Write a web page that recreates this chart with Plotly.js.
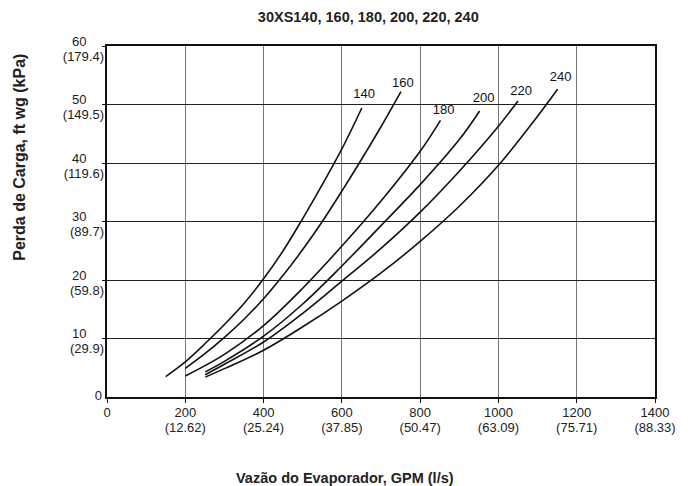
<!DOCTYPE html>
<html><head><meta charset="utf-8">
<script src="https://cdn.plot.ly/plotly-3.0.1.min.js"></script>
<style>body{margin:0;background:#fff}#chart{width:691px;height:486px}</style>
</head><body><div id="chart"></div>
<script>
const models = ["140", "160", "180", "200", "220", "240"];
const x140 = [150, 200, 250, 300, 350, 400, 450, 500, 550, 600, 651];
const y140 = [3.5, 6.0, 9.1, 12.4, 16.0, 20.2, 25.0, 30.5, 36.3, 42.4, 49.4];
const x160 = [200, 250, 300, 350, 400, 450, 500, 550, 600, 650, 700, 751];
const y160 = [4.9, 7.4, 10.2, 13.3, 16.8, 20.8, 25.2, 30.0, 35.2, 40.6, 46.2, 52.2];
const x180 = [200, 300, 400, 500, 600, 700, 800, 852];
const y180 = [3.6, 7.3, 12.2, 18.6, 25.8, 33.5, 42.0, 47.3];
const x200 = [251, 300, 400, 500, 600, 700, 800, 900, 952];
const y200 = [4.3, 6.1, 10.4, 15.9, 22.4, 29.3, 36.3, 44.0, 48.9];
const x220 = [251, 300, 400, 500, 600, 700, 800, 900, 1000, 1050];
const y220 = [3.8, 5.6, 9.4, 14.3, 19.8, 25.4, 31.6, 38.6, 46.3, 50.6];
const x240 = [251, 300, 400, 500, 600, 700, 800, 900, 1000, 1100, 1151];
const y240 = [3.4, 4.85, 8.0, 12.0, 16.4, 21.2, 26.6, 32.6, 39.6, 48.0, 52.6];
const labelX = [657, 756, 860, 962, 1058, 1159];
const labelY = [51.7, 53.6, 48.9, 50.9, 52.1, 54.5];

const xTickVals = [0, 200, 400, 600, 800, 1000, 1200, 1400];
const xTickGpm = ["0", "200", "400", "600", "800", "1000", "1200", "1400"];
const xTickLs = ["", "(12.62)", "(25.24)", "(37.85)", "(50.47)", "(63.09)", "(75.71)", "(88.33)"];
const yTickVals = [10, 20, 30, 40, 50, 60];
const yTickFt = ["10", "20", "30", "40", "50", "60"];
const yTickKpa = ["(29.9)", "(59.8)", "(89.7)", "(119.6)", "(149.5)", "(179.4)"];
const yZeroVals = [0];
const yZeroText = ["0"];

const FONT = 'Liberation Sans, Arial, Helvetica, sans-serif';
const xs = [x140, x160, x180, x200, x220, x240];
const ys = [y140, y160, y180, y200, y220, y240];
const traces = xs.map((x, i) => ({
  x: x, y: ys[i], mode: 'lines', type: 'scatter', name: models[i],
  line: {color: '#111', width: 1.6, shape: 'spline', smoothing: 1},
  hoverinfo: 'skip'
}));
traces.push({
  x: labelX, y: labelY, text: models, mode: 'text', type: 'scatter',
  textfont: {family: FONT, size: 13, color: '#111'}, hoverinfo: 'skip'
});
// empty traces so the extra label axes exist
traces.push({x: [], y: [], xaxis: 'x2', yaxis: 'y', type: 'scatter', mode: 'lines', hoverinfo: 'skip'});
traces.push({x: [], y: [], xaxis: 'x', yaxis: 'y2', type: 'scatter', mode: 'lines', hoverinfo: 'skip'});
traces.push({x: [], y: [], xaxis: 'x', yaxis: 'y3', type: 'scatter', mode: 'lines', hoverinfo: 'skip'});

const tickFont = {family: FONT, size: 13, color: '#222'};
const layout = {
  width: 691, height: 486,
  margin: {l: 107, r: 36, t: 46, b: 89},
  showlegend: false,
  paper_bgcolor: '#fff', plot_bgcolor: '#fff',
  font: {family: FONT, size: 13, color: '#222'},
  title: {text: '<b>30XS140, 160, 180, 200, 220, 240</b>', xref: 'container', x: 0.533, xanchor: 'center',
          yref: 'container', y: 0.965, yanchor: 'middle', font: {family: FONT, size: 14.5, color: '#222'}},
  xaxis: {
    range: [0, 1400], tickvals: xTickVals, ticktext: xTickGpm,
    showgrid: true, gridcolor: '#777', gridwidth: 1,
    showline: true, linecolor: '#111', linewidth: 2, mirror: true,
    ticks: 'outside', ticklen: 4, tickcolor: '#111', zeroline: false,
    ticklabelstandoff: -2, tickfont: tickFont
  },
  xaxis2: {
    range: [0, 1400], overlaying: 'x', anchor: 'y', side: 'bottom',
    tickvals: xTickVals, ticktext: xTickLs, showgrid: false, showline: false, zeroline: false,
    ticks: '', ticklabelstandoff: 21, tickfont: tickFont
  },
  yaxis: {
    range: [0, 60], tickvals: yTickVals, ticktext: yTickFt,
    showgrid: true, gridcolor: '#222', gridwidth: 1,
    showline: true, linecolor: '#111', linewidth: 2, mirror: true,
    ticks: 'outside', ticklen: 3, tickcolor: '#111', zeroline: false,
    ticklabelstandoff: 13, ticklabelshift: -5, tickfont: tickFont
  },
  yaxis2: {
    range: [0, 60], overlaying: 'y', anchor: 'x', side: 'left',
    tickvals: yTickVals, ticktext: yTickKpa, showgrid: false, showline: false, zeroline: false,
    ticks: '', ticklabelstandoff: 2, ticklabelshift: 10, tickfont: tickFont
  },
  yaxis3: {
    range: [0, 60], overlaying: 'y', anchor: 'x', side: 'left',
    tickvals: yZeroVals, ticktext: yZeroText, showgrid: false, showline: false, zeroline: false,
    ticks: '', ticklabelstandoff: 4, ticklabelshift: -2, tickfont: tickFont
  },
  annotations: [
    {text: '<b>Vazão do Evaporador, GPM (l/s)</b>', xref: 'paper', yref: 'paper', x: 0.434, y: -0.231,
     xanchor: 'center', yanchor: 'middle', showarrow: false, font: {family: FONT, size: 14.5, color: '#222'}},
    {text: '<b>Perda de Carga, ft wg (kPa)</b>', xref: 'paper', yref: 'paper', x: -0.159, y: 0.684,
     xanchor: 'center', yanchor: 'middle', textangle: -90, showarrow: false, font: {family: FONT, size: 16, color: '#222'}}
  ]
};
Plotly.newPlot('chart', traces, layout, {staticPlot: true});
</script></body></html>
